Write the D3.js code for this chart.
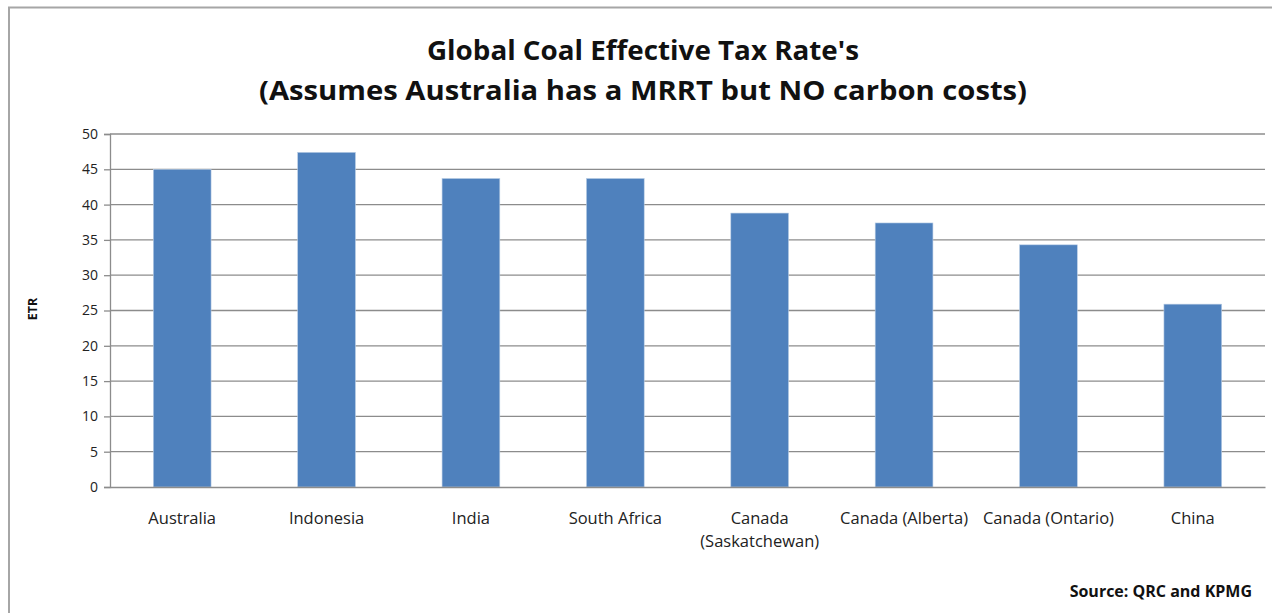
<!DOCTYPE html>
<html><head><meta charset="utf-8">
<script src="https://cdn.jsdelivr.net/npm/d3@7"></script>
<style>
html,body{margin:0;padding:0;background:#fff;}
svg{display:block;}
</style></head>
<body>
<svg id="c" width="1272" height="613"></svg>
<script>
const categories = ["Australia","Indonesia","India","South Africa","Canada (Saskatchewan)","Canada (Alberta)","Canada (Ontario)","China"];
const categoryLines = [["Australia"],["Indonesia"],["India"],["South Africa"],["Canada","(Saskatchewan)"],["Canada (Alberta)"],["Canada (Ontario)"],["China"]];
const etrValues = [45.0, 47.4, 43.7, 43.7, 38.8, 37.4, 34.3, 25.9];
const yTicks = [0,5,10,15,20,25,30,35,40,45,50];
const titleLines = ["Global Coal Effective Tax Rate's","(Assumes Australia has a MRRT but NO carbon costs)"];
const yAxisTitle = "ETR";
const sourceText = "Source: QRC and KPMG";

const svg = d3.select("#c");
const font = "'Open Sans', 'Liberation Sans', sans-serif";
const m = {left:110, right:1265, top:134, bottom:487};

// chart border
svg.append("path").attr("d","M9,613 V7.5 H1272").attr("fill","none").attr("stroke","#a6a6a6").attr("stroke-width",2);

const x = d3.scaleBand().domain(categories).range([m.left,m.right]).paddingInner(0.6).paddingOuter(0.3);
const y = d3.scaleLinear().domain([0,50]).range([m.bottom,m.top]);

// gridlines
svg.append("g").selectAll("line").data(yTicks.filter(d=>d>0)).join("line")
  .attr("x1",m.left).attr("x2",m.right).attr("y1",d=>y(d)).attr("y2",d=>y(d))
  .attr("stroke","#8c8c8c").attr("stroke-width",1.3);

// bars
svg.append("g").selectAll("rect").data(etrValues).join("rect")
  .attr("x",(d,i)=>x(categories[i])).attr("width",x.bandwidth())
  .attr("y",d=>y(d)).attr("height",d=>y(0)-y(d))
  .attr("fill","#4f81bd").attr("stroke","#b9cde5").attr("stroke-width",0.6);

// y axis
const yAxis = d3.axisLeft(y).tickValues(yTicks).tickSize(6).tickPadding(6);
const gy = svg.append("g").attr("transform",`translate(${m.left},0)`).call(yAxis);
gy.select(".domain").attr("stroke","#8c8c8c").attr("stroke-width",1.3);
gy.selectAll(".tick line").attr("stroke","#8c8c8c").attr("stroke-width",1.3);
gy.selectAll(".tick text").attr("font-family",font).attr("font-size",14).attr("fill","#222");

// x axis
const gx = svg.append("g").attr("transform",`translate(0,${m.bottom})`).call(d3.axisBottom(x).tickSize(0).tickFormat(""));
gx.select(".domain").attr("stroke","#8c8c8c").attr("stroke-width",1.3);

svg.append("g").selectAll("text").data(categoryLines).join("text")
  .attr("x",(d,i)=>x(categories[i])+x.bandwidth()/2).attr("y",524)
  .attr("text-anchor","middle").attr("font-family",font).attr("font-size",16.5).attr("fill","#222")
  .each(function(d){
    const t=d3.select(this);
    d.forEach((line,j)=>t.append("tspan").attr("x",t.attr("x")).attr("dy",j===0?0:23).text(line));
  });

// titles
svg.append("g").selectAll("text").data(titleLines).join("text")
  .attr("x",643).attr("y",(d,i)=>i===0?60:100)
  .attr("text-anchor","middle").attr("font-family",font).attr("font-weight","bold")
  .attr("font-size",26).attr("fill","#111")
  .attr("textLength",(d,i)=>i===0?432:768).attr("lengthAdjust","spacingAndGlyphs")
  .text(d=>d);

// y axis title
svg.append("text").attr("transform","translate(37,309) rotate(-90)")
  .attr("text-anchor","middle").attr("font-family",font).attr("font-weight","bold")
  .attr("font-size",12.5).attr("fill","#111").text(yAxisTitle);

// source
svg.append("text").attr("x",1252).attr("y",597).attr("text-anchor","end")
  .attr("font-family",font).attr("font-weight","bold").attr("font-size",16).attr("fill","#111")
  .text(sourceText);
</script>
</body></html>
